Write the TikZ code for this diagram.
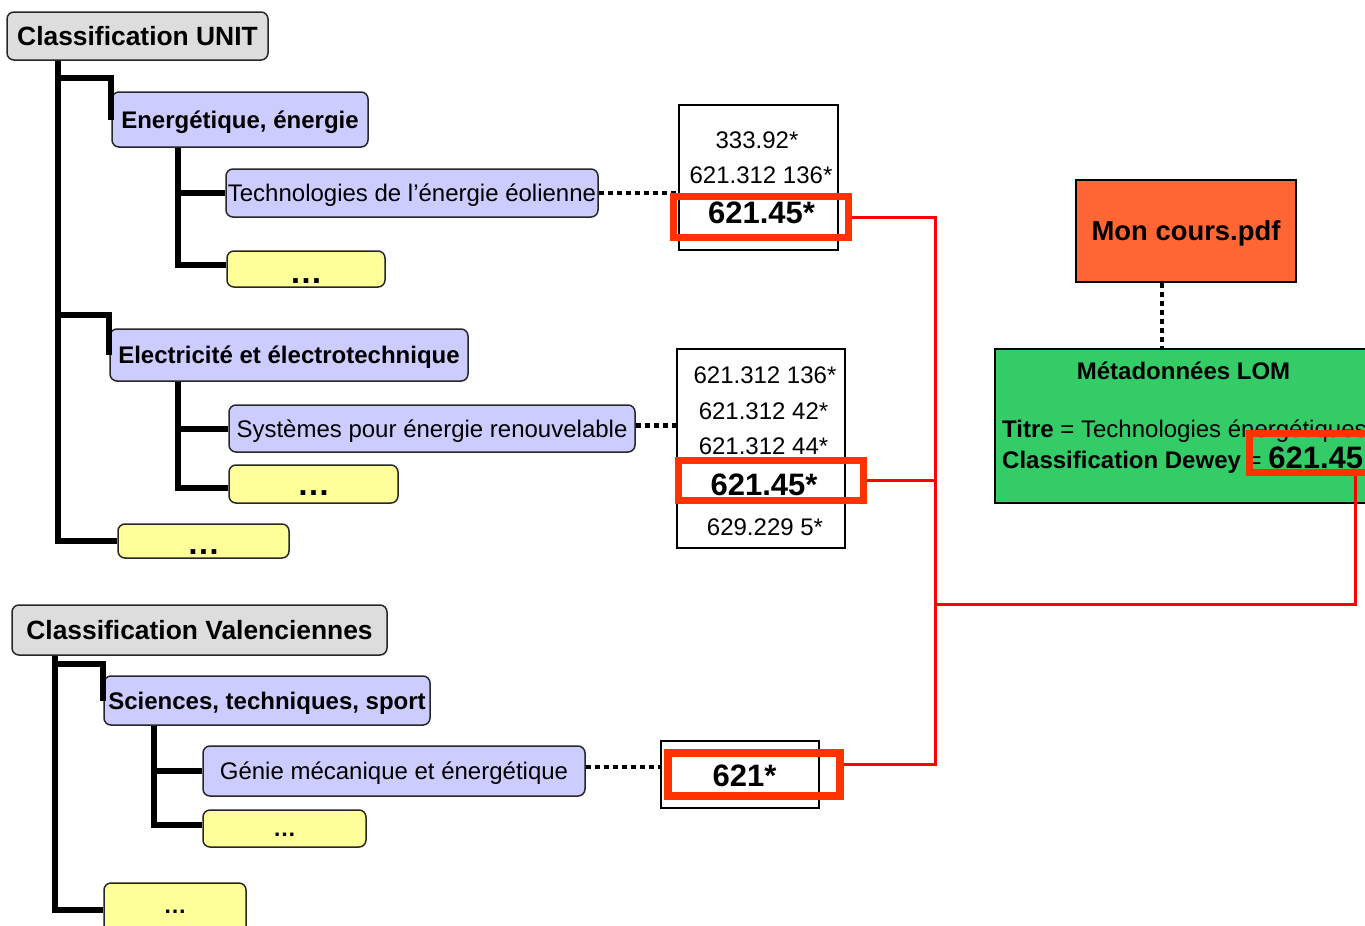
\documentclass[tikz,border=0pt]{standalone}
\usepackage{fontspec}
\setmainfont{Liberation Sans}
\definecolor{cgray}{HTML}{DDDDDD}
\definecolor{cblue}{HTML}{CCCCFF}
\definecolor{cyellow}{HTML}{FFFF99}
\definecolor{corange}{HTML}{FF6633}
\definecolor{cgreen}{HTML}{33CC66}
\definecolor{chl}{HTML}{FF3300}
\definecolor{cred}{HTML}{FF0000}
\tikzset{
  box/.style={draw=black!85, line width=1.5pt, rounded corners=7pt, inner sep=0pt},
  hdr/.style={box, fill=cgray, font=\fontsize{26.4pt}{30pt}\selectfont\bfseries, text height=18.9pt, text depth=0pt},
  cat/.style={box, fill=cblue, font=\fontsize{24pt}{28pt}\selectfont\bfseries, text height=17.2pt, text depth=0pt},
  sub/.style={box, fill=cblue, font=\fontsize{24pt}{28pt}\selectfont, text height=17.2pt, text depth=0pt},
  more/.style={box, fill=cyellow, font=\fontsize{33pt}{36pt}\selectfont\bfseries, text depth=0pt},
  morev/.style={box, fill=cyellow, font=\fontsize{23pt}{26pt}\selectfont\bfseries, text depth=0pt},
  numbox/.style={draw=black, line width=1.5pt, inner sep=0pt},
  num/.style={inner sep=0pt, font=\fontsize{24pt}{28pt}\selectfont, text height=17.2pt, text depth=0pt},
  numb/.style={inner sep=0pt, font=\fontsize{31pt}{34pt}\selectfont\bfseries, text height=22.2pt, text depth=0pt},
  hl/.style={draw=chl, line width=7pt, inner sep=0pt},
  tree/.style={line width=6pt, draw=black},
  dotline/.style={line width=4.5pt, dash pattern=on 5pt off 4pt},
  redline/.style={draw=cred, line width=3pt},
  plain/.style={inner sep=0pt, font=\fontsize{24pt}{28pt}\selectfont},
}
\begin{document}
\begin{tikzpicture}[x=1pt,y=-1pt]
\useasboundingbox (0,0) rectangle (1365,926);

% ---------- UNIT tree ----------
\node[hdr, minimum width=261pt, minimum height=48pt] (unit) at (137.5,36) {Classification UNIT};
\node[cat, minimum width=256pt, minimum height=55pt] (en) at (240,119.5) {Energétique, énergie};
\node[sub, minimum width=372pt, minimum height=48pt] (tech) at (412,193) {Technologies de l’énergie éolienne};
\node[more, minimum width=158pt, minimum height=36pt, text height=28pt] (d1) at (306,269) {…};
\node[cat, minimum width=358pt, minimum height=52pt] (el) at (289,355) {Electricité et électrotechnique};
\node[sub, minimum width=406pt, minimum height=47pt] (sys) at (432,428.5) {Systèmes pour énergie renouvelable};
\node[more, minimum width=169pt, minimum height=38pt, text height=23pt] (d2) at (313.5,484) {…};
\node[more, minimum width=171pt, minimum height=34pt, text height=27pt] (d3) at (203.5,541) {…};

\coordinate (uX) at (58,0);
\coordinate (uS) at (178,0);
\coordinate (b1) at (58,78);
\coordinate (b2) at (58,315);
\draw[tree] (unit.south -| uX) |- (d3.west);
\draw[tree] (b1) -| (en.west);
\draw[tree] (b2) -| (el.west);
\draw[tree] (en.south -| uS) |- (tech.west);
\draw[tree] (en.south -| uS) |- ([yshift=4pt]d1.west);
\draw[tree] (el.south -| uS) |- (sys.west);
\draw[tree] (el.south -| uS) |- ([yshift=-4pt]d2.west);

% ---------- Valenciennes tree ----------
\node[hdr, minimum width=375pt, minimum height=50pt] (val) at (199.5,630) {Classification Valenciennes};
\node[cat, minimum width=326pt, minimum height=49pt] (sci) at (267,700.5) {Sciences, techniques, sport};
\node[sub, minimum width=382pt, minimum height=50pt] (gen) at (394,771) {Génie mécanique et énergétique};
\node[morev, minimum width=163pt, minimum height=37pt, text height=15pt] (d5) at (284.5,828.5) {…};
\node[morev, minimum width=142pt, minimum height=53pt, text height=7pt] (d6) at (175,909.5) {…};

\coordinate (vX) at (55,0);
\coordinate (vS) at (154,0);
\coordinate (b3) at (55,664);
\draw[tree] (val.south -| vX) |- (d6.west);
\draw[tree] (b3) -| (sci.west);
\draw[tree] (sci.south -| vS) |- (gen.west);
\draw[tree] (sci.south -| vS) |- ([yshift=3.5pt]d5.west);

% ---------- Dewey number boxes ----------
\node[numbox, minimum width=159pt, minimum height=145pt] (nb1) at (758.5,177.5) {};
\node[num] (n11) at (757,140) {333.92*};
\node[num] (n12) at (761,174.5) {621.312 136*};
\node[numb] (n13) at (761.5,212.5) {621.45*};

\node[numbox, minimum width=168pt, minimum height=199pt] (nb2) at (761,448.5) {};
\node[num] (n21) at (765,375) {621.312 136*};
\node[num] (n22) at (763.5,411) {621.312 42*};
\node[num] (n23) at (763.5,446) {621.312 44*};
\node[numb] (n24) at (764,484) {621.45*};
\node[num] (n25) at (765,527) {629.229 5*};

\node[numbox, minimum width=158pt, minimum height=67pt] (nb3) at (740,774.5) {};
\node[numb] (n31) at (744.5,775) {621*};

\draw[dotline] (tech.east) -- (tech.east -| nb1.west);
\draw[dotline] ([yshift=3pt]sys.east) -- ([yshift=3pt]sys.east -| nb2.west);
\draw[dotline] ([yshift=4pt]gen.east) -- ([yshift=4pt]gen.east -| nb3.west);

% ---------- document and metadata ----------
\node[draw=black, line width=2pt, fill=corange, minimum width=220pt, minimum height=102pt, inner sep=0pt,
      font=\fontsize{27.4pt}{30pt}\selectfont\bfseries, text height=19.6pt, text depth=0pt] (mc) at (1186,231) {Mon cours.pdf};
\node[draw=black, line width=2pt, fill=cgreen, minimum width=385pt, minimum height=154pt, inner sep=0pt] (lom) at (1187.5,426) {};
\node[plain, font=\fontsize{24pt}{28pt}\selectfont\bfseries, text height=17.2pt, text depth=0pt] (lomt) at (1183.5,370.5) {Métadonnées LOM};
\node[plain, anchor=base west] (titre) at (1002,437) {\textbf{Titre} = Technologies énergétiques};
\node[plain, anchor=base west] (dewey) at (1002,468) {\textbf{Classification Dewey} = {\fontsize{31pt}{34pt}\selectfont\bfseries 621.45}};

\coordinate (mcs) at ([xshift=-24pt]mc.south);
\draw[dotline] (mcs) -- (mcs |- lom.north);

% ---------- highlights ----------
\node[hl, minimum width=175pt, minimum height=41pt] (r1) at (761,217) {};
\node[hl, minimum width=185pt, minimum height=40pt] (r2) at (771,480.5) {};
\node[hl, line width=8pt, minimum width=172pt, minimum height=43pt] (r3) at (754,774.5) {};
\node[hl, minimum width=130.5pt, minimum height=39pt] (r4) at (1314.75,453) {};

\coordinate (j) at (935,604);
\coordinate (jr) at (1355,604);
\draw[redline] (r1.east) -| (j);
\draw[redline] (r2.east) -| (j);
\draw[redline] ([yshift=10pt]r3.east) -| (j);
\draw[redline] (j) -- (jr) -- (jr |- r4.south);
\end{tikzpicture}
\end{document}
